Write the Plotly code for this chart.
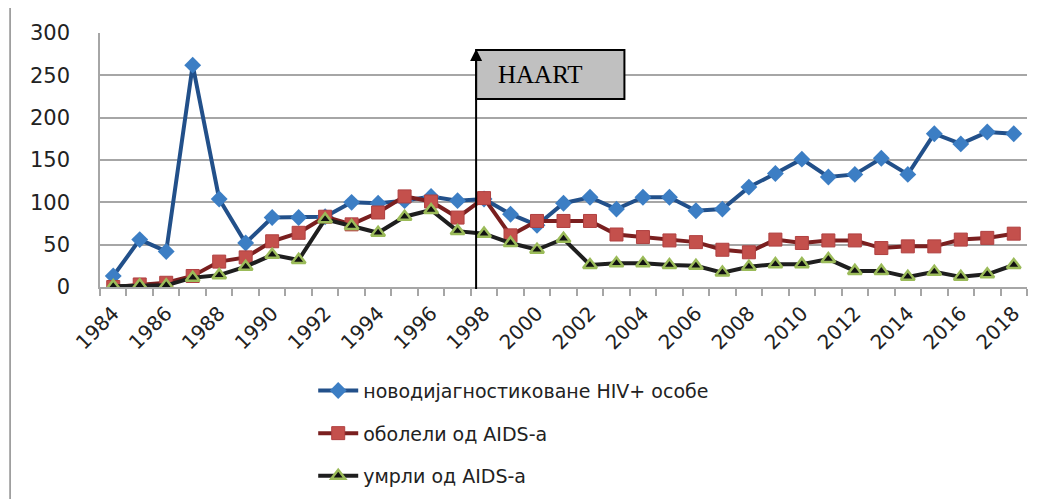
import plotly.graph_objects as go

years = list(range(1984, 2019))
hiv_new = [13, 56, 42, 262, 104, 52, 82, 82, 83, 100, 99, 102, 107, 102, 104, 86, 73, 99, 106, 92, 106, 106, 90, 92, 118, 134, 151, 130, 133, 152, 133, 181, 169, 183, 181]
aids_cases = [0, 3, 5, 13, 30, 35, 54, 64, 83, 74, 88, 107, 101, 82, 105, 61, 78, 78, 78, 62, 59, 55, 53, 44, 41, 56, 52, 55, 55, 46, 48, 48, 56, 58, 63]
aids_deaths = [1, 2, 2, 11, 14, 24, 38, 32, 80, 72, 64, 83, 91, 66, 63, 52, 44, 57, 26, 28, 28, 26, 25, 17, 24, 27, 27, 33, 19, 19, 12, 18, 12, 15, 26]
names = ["новодијагностиковане HIV+ особе", "оболели од AIDS-a", "умрли од AIDS-a"]
x_ticks = list(range(1984, 2019, 2))
y_ticks = [0, 50, 100, 150, 200, 250, 300]
haart_year = 1997.7

FONT = "DejaVu Sans"
fig = go.Figure()
fig.add_trace(go.Scatter(
    x=years, y=hiv_new, name=names[0], mode="lines+markers", legendgroup="a",
    line=dict(color="#22508a", width=4),
    marker=dict(symbol="diamond", size=13, color="#3c7ec4", line=dict(width=0))))
fig.add_trace(go.Scatter(
    x=years, y=aids_cases, name=names[1], mode="lines+markers", legendgroup="b",
    line=dict(color="#7a1f1f", width=4),
    marker=dict(symbol="square", size=13, color="#c4504c", line=dict(width=1, color="#b04040"))))
fig.add_trace(go.Scatter(
    x=years, y=aids_deaths, name=names[2], mode="lines+markers", legendgroup="c",
    line=dict(color="#1e1e1e", width=4),
    marker=dict(symbol="triangle-up", size=12, color="#111111", line=dict(width=2.5, color="#9bbb59"))))

fig.update_layout(
    width=1050, height=491,
    margin=dict(l=92, r=31, t=25, b=212, autoexpand=False),
    paper_bgcolor="white", plot_bgcolor="white",
    font=dict(family=FONT, color="#333333"),
    showlegend=True,
    legend=dict(x=0.23, y=-0.333, xanchor="left", yanchor="top",
                font=dict(family=FONT, size=19, color="#222222"),
                traceorder="grouped", tracegroupgap=15, itemwidth=40,
                bgcolor="rgba(0,0,0,0)"),
    xaxis=dict(range=[1983.5, 2018.5], tickvals=x_ticks, ticktext=[str(v) for v in x_ticks],
               tickangle=-45, ticks="", showgrid=False, zeroline=False, automargin=False,
               showline=True, linecolor="#a6a6a6", linewidth=1.5, ticklabelstandoff=5,
               tickfont=dict(family=FONT, size=20, color="#222222"),
               minor=dict(ticks="outside", tick0=1983.5, dtick=1, ticklen=7,
                          tickcolor="#a6a6a6", tickwidth=1.5, showgrid=False)),
    yaxis=dict(range=[0, 300], tickvals=y_ticks, showgrid=True, gridcolor="#a6a6a6", gridwidth=1.5,
               zeroline=False, showline=True, linecolor="#a6a6a6", linewidth=1.5, automargin=False,
               ticks="", ticklabelstandoff=24,
               tickfont=dict(family=FONT, size=21, color="#222222")),
)

# outer chart border
fig.add_shape(type="rect", xref="paper", yref="paper", x0=-0.097, x1=1.2, y0=-1.5, y1=1.102,
              line=dict(color="#8c8c8c", width=1.5), fillcolor="rgba(0,0,0,0)", layer="below")

# HAART marker box and arrow
fig.add_shape(type="rect", xref="x", yref="y", x0=haart_year, x1=2003.3, y0=222, y1=280,
              fillcolor="#c0c0c0", line=dict(color="black", width=2))
fig.add_annotation(x=haart_year, y=281, ax=haart_year, ay=-4, xref="x", yref="y", axref="x", ayref="y",
                   showarrow=True, arrowhead=2, arrowsize=1.2, arrowwidth=2, arrowcolor="black", text="")
fig.add_annotation(x=1998.45, y=251, xref="x", yref="y", text="HAART", showarrow=False,
                   xanchor="left", yanchor="middle",
                   font=dict(family="Liberation Serif", size=25, color="black"))

fig.write_html("out.html")
